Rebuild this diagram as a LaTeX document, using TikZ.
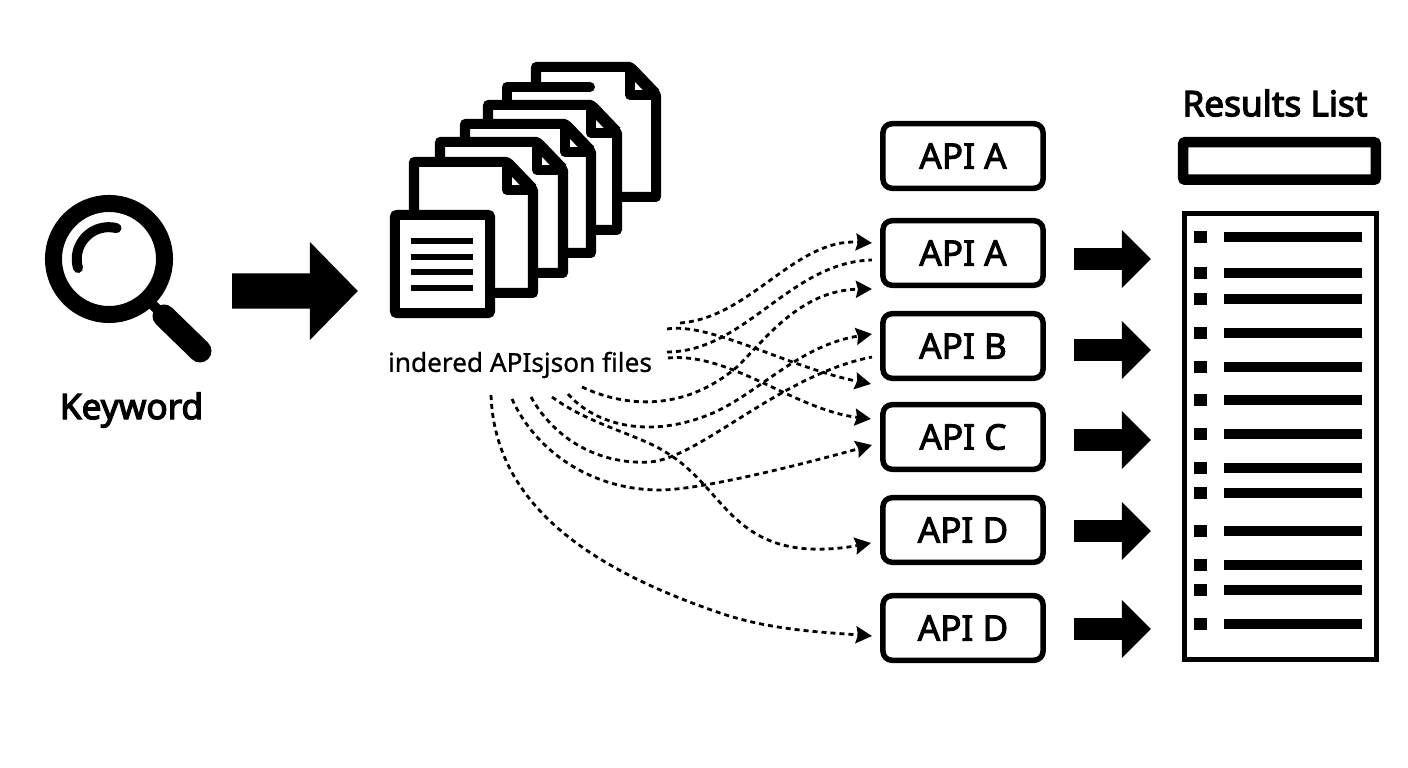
\documentclass[tikz,border=0pt]{standalone}
\usepackage{fontspec}
\usepackage{xcolor}
\usepackage{tikz}
\usetikzlibrary{arrows.meta}
\setmainfont[FakeBold=0.8]{Noto Sans}
\newfontfamily\apifont[FakeBold=2.5]{Noto Sans}
\newfontfamily\headfont[FakeBold=3.5]{Noto Sans}

\tikzset{
  apibox/.style={draw, line width=0.055cm, rounded corners=0.09cm, minimum width=1.6cm, minimum height=0.645cm, outer sep=0pt, inner sep=0pt, font=\apifont\fontsize{10}{12}\selectfont},
  headlabel/.style={inner sep=0pt, font=\headfont\fontsize{10}{12}\selectfont},
  pageline/.style={line width=0.1cm, line join=round},
  flow/.style={line width=0.028cm, dash pattern=on 0.05cm off 0.04cm},
  flowtip/.style={flow, -{Stealth[length=0.16cm,width=0.17cm,inset=0.02cm]}},
  bigarrow/.style={line width=0.22cm, -{Triangle[length=0.29cm,width=0.56cm]}, shorten <=0.31cm, shorten >=0.335cm},
  mainarrow/.style={line width=0.35cm, -{Triangle[length=0.48cm,width=0.95cm]}, shorten <=0.675cm, shorten >=0.37cm}
}

\begin{document}
\begin{tikzpicture}[x=0.01cm, y=-0.01cm]
\useasboundingbox (0,0) rectangle (1408,768);

% magnifying glass
\node[circle, draw, line width=0.17cm, minimum size=1.11cm, inner sep=0pt, outer sep=0pt] (lens) at (109,259) {};
\draw[line width=0.1cm, line cap=round] (78,268) arc (164:284:32);
\draw[line width=0.1cm] (148,300) -- (165,317);
\draw[line width=0.23cm, line cap=round] (164,316) -- (200,351);
\node[headlabel] (keyword) at (131.5,410) {Keyword};

% pile of json files
\foreach \l/\t/\r/\b in {536/67/656/197} {
  \draw[pageline, fill=white] (\l,\t) -- (\r-26,\t) -- (\r,\t+28) -- (\r,\b) -- (\l,\b) -- cycle;
  \draw[pageline] (\r-26,\t) -- (\r-26,\t+28) -- (\r,\t+28);
  \draw[line width=0.12cm] (\r-25,\t+2) -- (\r-1,\t+27);
}
\fill[white] (507,87) rectangle (590,120);
\draw[line width=0.1cm, line cap=round, line join=round] (507,120) -- (507,87) -- (590,87);
\foreach \l/\t/\r/\b in {488/105/617/230, 465/124/591/253, 440/142/563/273, 414/162/533/293} {
  \draw[pageline, fill=white] (\l,\t) -- (\r-26,\t) -- (\r,\t+28) -- (\r,\b) -- (\l,\b) -- cycle;
  \draw[pageline] (\r-26,\t) -- (\r-26,\t+28) -- (\r,\t+28);
  \draw[line width=0.12cm] (\r-25,\t+2) -- (\r-1,\t+27);
}

% front file
\node[draw, fill=white, line width=0.1cm, rounded corners=0.02cm, minimum width=0.95cm, minimum height=0.98cm, outer sep=0pt] (frontdoc) at (442.5,264) {};
\foreach \y in {241,257,272,288}
  \draw[line width=0.06cm] (411,\y) -- (473,\y);
\node[inner sep=0pt, font=\fontsize{7.45}{9}\selectfont] (filelabel) at (520,365) {indered APIsjson files};

% keyword to files
\draw[mainarrow] ([yshift=-0.32cm]lens.east) -- ([yshift=-0.27cm]frontdoc.west);

% api column
\node[apibox] (apitop) at (963,156) {API A};
\node[apibox] (apiA) at (963,253) {API A};
\node[apibox] (apiB) at (963,346) {API B};
\node[apibox] (apiC) at (963,437) {API C};
\node[apibox] (apiDa) at (963,530) {API D};
\node[apibox] (apiDb) at (963,628) {API D};

% results list
\node[headlabel] (resultstitle) at (1275,103) {Results List};
\node[draw, line width=0.105cm, rounded corners=0.02cm, minimum width=1.925cm, minimum height=0.375cm, outer sep=0pt] (searchbar) at (1279.5,161) {};
\node[draw, line width=0.047cm, minimum width=1.92cm, minimum height=4.46cm, outer sep=0pt] (resultlist) at (1280.5,436.5) {};
\foreach \y in {237,273,299,333,367,400,434,468,493,531,565,590,624} {
  \fill (1194,\y-6) rectangle (1207,\y+6);
  \fill (1224,\y-5) rectangle (1362,\y+5);
}

% api to results
\foreach \n/\d in {apiA/0.06, apiB/0.04, apiC/0.03, apiDa/0.01, apiDb/0.01}
  \draw[bigarrow] ([yshift=-\d cm]\n.east) -- ([yshift=-\d cm]\n.east -| resultlist.west);

% loose ends of the dotted lines
\coordinate (fromA) at (680,323);
\coordinate (fromB) at (667,352);
\coordinate (fromC) at (582,387);
\coordinate (fromD) at (568,394);
\coordinate (fromE) at (552,397);
\coordinate (fromF) at (531,397);
\coordinate (fromG) at (512,399);
\coordinate (fromH) at (491,395);
\coordinate (fromI) at (667,329);
\coordinate (fromJ) at (668,358);

% dotted lines
\draw[flowtip] (fromA) .. controls (750,318) and (795,238) .. ([xshift=-0.11cm,yshift=0.1cm]apiA.west);
\draw[flow] (fromB) .. controls (745,352) and (790,262) .. ([xshift=-0.11cm,yshift=-0.07cm]apiA.west);
\draw[flowtip] (fromC) .. controls (620,405) and (680,415) .. (737,367) .. controls (765,340) and (800,290) .. ([xshift=-0.11cm,yshift=-0.36cm]apiA.west);
\draw[flowtip] (fromD) .. controls (595,425) and (650,440) .. (713,413) .. controls (760,392) and (800,345) .. ([xshift=-0.11cm,yshift=0.12cm]apiB.west);
\draw[flow] (fromF) .. controls (555,440) and (600,465) .. (650,462) .. controls (700,458) and (780,375) .. ([xshift=-0.11cm,yshift=-0.11cm]apiB.west);
\draw[flowtip] (fromI) .. controls (710,322) and (790,368) .. ([xshift=-0.12cm,yshift=0.53cm]apiC.west);
\draw[flowtip] (fromJ) .. controls (730,352) and (795,410) .. ([xshift=-0.12cm,yshift=0.18cm]apiC.west);
\draw[flowtip] (fromG) .. controls (535,450) and (590,490) .. (660,490) .. controls (700,490) and (800,465) .. ([xshift=-0.11cm,yshift=-0.08cm]apiC.west);
\draw[flowtip] (fromE) .. controls (590,425) and (640,435) .. (667,453) .. controls (720,485) and (730,545) .. (810,549) .. controls (830,550) and (850,547) .. ([xshift=-0.12cm,yshift=-0.13cm]apiDa.west);
\draw[flowtip] (fromH) .. controls (495,510) and (600,572) .. (720,613) .. controls (770,630) and (820,632) .. ([xshift=-0.11cm,yshift=-0.08cm]apiDb.west);
\end{tikzpicture}
\end{document}
